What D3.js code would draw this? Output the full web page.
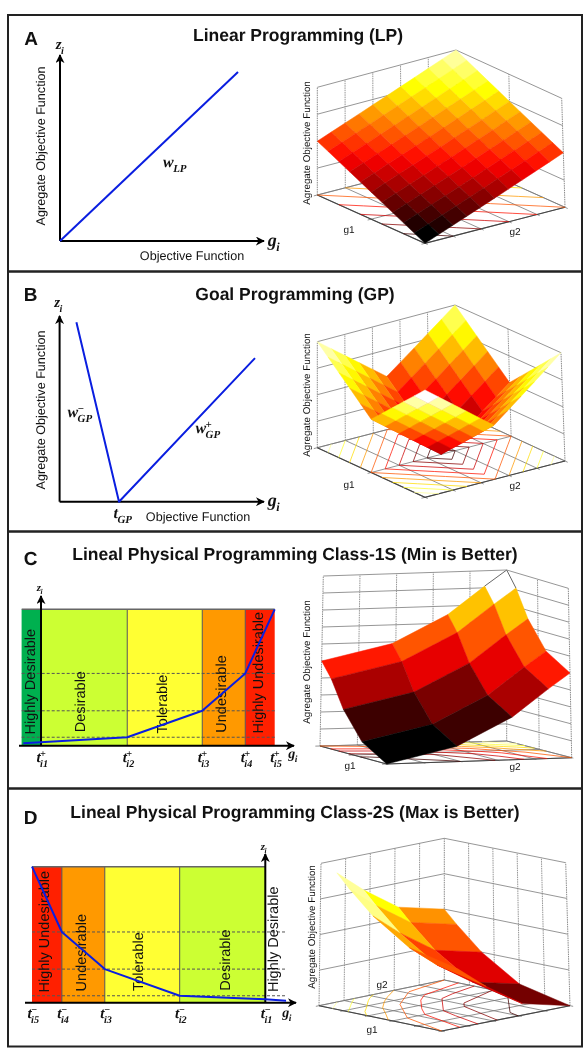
<!DOCTYPE html>
<html><head><meta charset="utf-8">
<style>html,body{margin:0;padding:0;background:#fff}svg{display:block;filter:blur(.35px)}text{fill:#111;text-rendering:geometricPrecision}</style>
<script src="https://cdn.jsdelivr.net/npm/d3@7"></script></head>
<body><svg id="c" width="583" height="1050"></svg>
<script>
// ---------- DATA ----------
const titles = ["Linear Programming (LP)","Goal Programming (GP)","Lineal Physical Programming Class-1S (Min is Better)","Lineal Physical Programming Class-2S (Max is Better)"];
const panelLetters = ["A","B","C","D"];
const lpG = [0,100], lpZ = [0,100];
const gpG = [8.6,30.4,100], gpZ = [100,0,80];
const class1Breaks = [0,36.9,69,87.4,100];
const class1Levels = [6.2,25.6,53,100];
const class1CurveG = [-7.6,36.9,69,87.4,100];
const class1CurveZ = [1.8,6.2,25.6,53,100];
const class1Bands = ["Highly Desirable","Desirable","Tolerable","Undesirable","Highly Undesirable"];
const class2Breaks = [0,36.7,68.8,87.2,100];
const class2Levels = [5.1,24.7,52,100];
const class2CurveG = [100,87.2,68.8,36.7,0,-8.9];
const class2CurveZ = [100,52,24.7,5.1,2.5,1.5];
const bandColors = ["#00b04f","#ccff33","#ffff33","#ff9900","#ff2000"];

const gridTen = [0,.1,.2,.3,.4,.5,.6,.7,.8,.9,1];
const surfaceLP = [
[0,.05,.1,.15,.2,.25,.3,.35,.4,.45,.5],
[.05,.1,.15,.2,.25,.3,.35,.4,.45,.5,.55],
[.1,.15,.2,.25,.3,.35,.4,.45,.5,.55,.6],
[.15,.2,.25,.3,.35,.4,.45,.5,.55,.6,.65],
[.2,.25,.3,.35,.4,.45,.5,.55,.6,.65,.7],
[.25,.3,.35,.4,.45,.5,.55,.6,.65,.7,.75],
[.3,.35,.4,.45,.5,.55,.6,.65,.7,.75,.8],
[.35,.4,.45,.5,.55,.6,.65,.7,.75,.8,.85],
[.4,.45,.5,.55,.6,.65,.7,.75,.8,.85,.9],
[.45,.5,.55,.6,.65,.7,.75,.8,.85,.9,.95],
[.5,.55,.6,.65,.7,.75,.8,.85,.9,.95,1]];
const surfaceGP = [
[1,.9,.8,.7,.6,.5,.6,.7,.8,.9,1],
[.9,.8,.7,.6,.5,.4,.5,.6,.7,.8,.9],
[.8,.7,.6,.5,.4,.3,.4,.5,.6,.7,.8],
[.7,.6,.5,.4,.3,.2,.3,.4,.5,.6,.7],
[.6,.5,.4,.3,.2,.1,.2,.3,.4,.5,.6],
[.5,.4,.3,.2,.1,0,.1,.2,.3,.4,.5],
[.6,.5,.4,.3,.2,.1,.2,.3,.4,.5,.6],
[.7,.6,.5,.4,.3,.2,.3,.4,.5,.6,.7],
[.8,.7,.6,.5,.4,.3,.4,.5,.6,.7,.8],
[.9,.8,.7,.6,.5,.4,.5,.6,.7,.8,.9],
[1,.9,.8,.7,.6,.5,.6,.7,.8,.9,1]];
const class1U = [0,.375,.66,.85,1], class1V = [0,.38,.68,.88,1];
const surfaceC = [
[0,.09,.25,.41,.5],
[.09,.18,.34,.5,.59],
[.25,.34,.5,.66,.75],
[.41,.5,.66,.82,.91],
[.5,.59,.75,.91,1]];
const colorC = [[0,.09,.25,.41],[.09,.18,.34,.5],[.25,.34,.5,.66],[.41,.5,.66,1]];
const class2U = [0,.4,.7,.9,1], class2V = [0,.37,.65,.87,1];
const surfaceD = [
[0,.08,.25,.41,.5],
[.08,.16,.33,.49,.58],
[.25,.33,.5,.66,.75],
[.41,.49,.66,.82,.91],
[.5,.58,.75,.91,1]];
const colorD = [[.17,.33,.5],[.33,.47,.62],[.5,.64,.88],[.59,.75,.9]];
const contourLevels = [.1,.2,.3,.4,.5,.6,.7,.8,.9];

// ---------- LAYOUT ----------
const svg = d3.select("#c");
const sans = "'Liberation Sans',Arial,sans-serif", serif = "'Liberation Serif','Times New Roman',serif";
const hot = d3.scaleLinear().domain([0,.375,.75,1]).range(["#000","#f00","#ff0","#fff"]).clamp(true);

svg.append("defs").append("marker").attr("id","arrow").attr("viewBox","0 0 10 10").attr("refX",9).attr("refY",5)
  .attr("markerWidth",9).attr("markerHeight",9).attr("markerUnits","userSpaceOnUse").attr("orient","auto")
  .append("path").attr("d","M0,0L10,5L0,10L3,5Z").attr("fill","#000");

[[8,15,574,256.5],[8,271.5,574,260],[8,531.5,574,257],[8,788.5,574,258]].forEach(r=>
  svg.append("rect").attr("x",r[0]).attr("y",r[1]).attr("width",r[2]).attr("height",r[3]).attr("fill","none").attr("stroke","#222").attr("stroke-width",2));

const titleCfg = [[298,41,17.5],[295,300,17.5],[295,560,17.5],[295,818,17.5]];
titles.forEach((t,i)=>svg.append("text").attr("x",titleCfg[i][0]).attr("y",titleCfg[i][1]).attr("text-anchor","middle")
  .attr("font-family",sans).attr("font-weight","bold").attr("font-size",titleCfg[i][2]).text(t));
[[31,45],[30.5,301],[30.5,565],[30.5,824]].forEach((p,i)=>svg.append("text").attr("x",p[0]).attr("y",p[1]).attr("text-anchor","middle")
  .attr("font-family",sans).attr("font-weight","bold").attr("font-size",19).text(panelLetters[i]));

function txt(x,y,s,size,rot){
  const t = svg.append("text").attr("font-family",sans).attr("font-size",size).attr("text-anchor","middle").attr("dy",".35em").text(s);
  t.attr("transform",`translate(${x},${y})`+(rot?` rotate(${rot})`:""));
  return t;
}
function math(cx,y,base,sub,sup,size){
  const g = svg.append("g");
  const mk=(s,fs)=>g.append("text").attr("font-family",serif).attr("font-style","italic").attr("font-weight","bold").attr("font-size",fs).text(s);
  const b = mk(base,size);
  const bw = b.node().getComputedTextLength();
  const sb = sub?mk(sub,size*.68):null, sp = sup?mk(sup,size*.68):null;
  const w = bw + Math.max(sb?sb.node().getComputedTextLength():0, sp?sp.node().getComputedTextLength():0);
  const x0 = cx-w/2;
  b.attr("x",x0).attr("y",y);
  if(sb) sb.attr("x",x0+bw-.5).attr("y",y+size*.3);
  if(sp) sp.attr("x",x0+bw-.5).attr("y",y-size*.32);
}
function axisLine(x1,y1,x2,y2,sw){
  svg.append("line").attr("x1",x1).attr("y1",y1).attr("x2",x2).attr("y2",y2).attr("stroke","#000").attr("stroke-width",sw||2).attr("marker-end","url(#arrow)");
}
function curve(xs,ys,X,Y,w){
  svg.append("path").datum(d3.zip(xs,ys)).attr("fill","none").attr("stroke","#0a1ee0").attr("stroke-width",w||2)
    .attr("stroke-linejoin","round").attr("d",d3.line().x(d=>X(d[0])).y(d=>Y(d[1])));
}

// ---- A left
{
  const X=d3.scaleLinear([0,100],[60,238]), Y=d3.scaleLinear([0,100],[241,72]);
  axisLine(60,241,264,241); axisLine(60,241,60,55);
  curve(lpG,lpZ,X,Y);
  txt(41,146,"Agregate Objective Function",12.6,-90);
  txt(192,256,"Objective Function",12.6);
  math(60,49,"z","i",null,15); math(274,246,"g","i",null,18);
  math(175,167,"w","LP",null,16);
}
// ---- B left
{
  const X=d3.scaleLinear([0,100],[59.6,255]), Y=d3.scaleLinear([0,100],[501.7,322.3]);
  axisLine(59.6,501.7,264,501.7); axisLine(59.6,501.7,59.6,316);
  curve(gpG,gpZ,X,Y);
  txt(41,410,"Agregate Objective Function",12.6,-90);
  txt(198,516.5,"Objective Function",12.6);
  math(58.5,307,"z","i",null,15); math(274,506,"g","i",null,18);
  math(123,518,"t","GP",null,16);
  math(80,417,"w","GP","\u2212",16); math(208,433,"w","GP","+",16);
}
// ---- bands
function bands(cfg){
  const X=d3.scaleLinear([0,100],cfg.xr), Y=d3.scaleLinear([0,100],cfg.yr);
  cfg.rects.forEach(r=>{
    const a=Math.min(X(r[0]),X(r[1])), b=Math.max(X(r[0]),X(r[1]));
    svg.append("rect").attr("x",a).attr("y",Y(100)).attr("width",b-a).attr("height",Y(0)-Y(100)).attr("fill",bandColors[r[2]]);
  });
  cfg.breaks.forEach(v=>svg.append("line").attr("x1",X(v)).attr("x2",X(v)).attr("y1",Y(0)).attr("y2",Y(100)).attr("stroke","#555").attr("stroke-width",1));
  svg.append("line").attr("x1",cfg.top[0]).attr("x2",cfg.top[1]).attr("y1",Y(100)).attr("y2",Y(100)).attr("stroke","#666").attr("stroke-width",1.5);
  cfg.levels.slice(0,3).forEach(v=>svg.append("line").attr("x1",cfg.dash[0]).attr("x2",cfg.dash[1]).attr("y1",Y(v)).attr("y2",Y(v)).attr("stroke","#555").attr("stroke-width",1).attr("stroke-dasharray","3 2"));
  cfg.text.forEach(t=>txt(t[0],t[1],class1Bands[t[2]],14.5,-90));
  return [X,Y];
}
{
  const [X,Y]=bands({xr:[41,274.7],yr:[745.7,609.3],top:[21.7,274.7],dash:[21.7,274.7],levels:class1Levels,breaks:class1Breaks.slice(1,4),
    rects:[[-8.3,0,0],[0,36.9,1],[36.9,69,2],[69,87.4,3],[87.4,100,4]],
    text:[[30,681.7,0],[80,701.7,1],[161.7,704,2],[220.7,694,3],[258.3,672.7,4]]});
  axisLine(19,745.7,294,745.7); axisLine(41,745.7,41,596);
  curve(class1CurveG,class1CurveZ,X,Y);
  ["i1","i2","i3","i4","i5"].forEach((s,i)=>math(X(class1Breaks[i])+1.5,762,"t",s,"+",15));
  math(293,758,"g","i",null,14); math(40,591,"z","i",null,11);
}
{
  const [X,Y]=bands({xr:[265.3,32],yr:[1002.7,866.7],top:[32,265.3],dash:[32,287],levels:class2Levels,breaks:class2Breaks.slice(1,4),
    rects:[[0,36.7,1],[36.7,68.8,2],[68.8,87.2,3],[87.2,100,4]],
    text:[[44.3,931.7,4],[81,952.7,3],[138.3,961.7,2],[225,960,1],[272.7,939.3,0]]});
  axisLine(25,1002.7,296,1002.7); axisLine(265.3,1002.7,265.3,854);
  curve(class2CurveG,class2CurveZ,X,Y);
  ["i1","i2","i3","i4","i5"].forEach((s,i)=>math(X(class2Breaks[i])+1.5,1018,"t",s,"\u2212",15));
  math(287,1017,"g","i",null,14); math(264,850,"z","i",null,11);
}

// ---------- 3D SURFACES ----------
function surface(cfg){
  const c=cfg.corners;
  const lerp=(a,b,t)=>[a[0]+(b[0]-a[0])*t,a[1]+(b[1]-a[1])*t];
  const P=(u,v,w)=>{
    const fl=lerp(lerp(c.O[0],c.V[0],v),lerp(c.U[0],c.W[0],v),u);
    const tp=lerp(lerp(c.O[1],c.V[1],v),lerp(c.U[1],c.W[1],v),u);
    return lerp(fl,tp,w);
  };
  const g=svg.append("g");
  const pathOf=d3.line();
  const L=(pts,col,sw,da,op)=>g.append("path").attr("d",pathOf(pts)).attr("fill","none").attr("stroke",col).attr("stroke-width",sw).attr("stroke-dasharray",da||null).attr("opacity",op||1);
  const grey="#8a8a8a", dark="#444";
  const zs=d3.range(cfg.zSeg+1).map(i=>i/cfg.zSeg);
  const W=cfg.walls;
  zs.forEach(w=>L([P(...W[0],w),P(...W[1],w),P(...W[2],w)],grey,.9));
  d3.range(1,cfg.seg1).forEach(i=>{const t=i/cfg.seg1;const a=[W[0][0]+(W[1][0]-W[0][0])*t,W[0][1]+(W[1][1]-W[0][1])*t];L([P(...a,0),P(...a,1)],grey,.9,"1.5 .8");});
  d3.range(1,cfg.seg2).forEach(i=>{const t=i/cfg.seg2;const a=[W[1][0]+(W[2][0]-W[1][0])*t,W[1][1]+(W[2][1]-W[1][1])*t];L([P(...a,0),P(...a,1)],grey,.9,"1.5 .8");});
  W.forEach(a=>L([P(...a,0),P(...a,1)],grey,1,"1.5 .8"));
  // floor grid, extended slightly past the front edges to form ticks
  const F=cfg.floorSeg, fe=cfg.front;
  d3.range(F[0]+1).forEach(i=>{const t=i/F[0];L(fe[1]==0?[P(t,-.025,0),P(t,1,0)]:[P(t,0,0),P(t,1.025,0)],"#777",.8);});
  d3.range(F[1]+1).forEach(i=>{const t=i/F[1];L(fe[0]==0?[P(-.025,t,0),P(1,t,0)]:[P(0,t,0),P(1.025,t,0)],"#777",.8);});
  L([P(1,fe[1],0),P(fe[0],fe[1],0),P(fe[0],1-fe[1],0)],dark,1.1);
  // contours on the floor
  const z=cfg.z,U=cfg.u,V=cfg.v;
  const hotT=d3.scaleLinear([0,1],[cfg.cLow||0,1]);
  contourLevels.forEach(lv=>{
    const col=hot(lv);
    for(let i=0;i<U.length-1;i++)for(let j=0;j<V.length-1;j++){
      const q=[[i,j],[i+1,j],[i+1,j+1],[i,j+1]], pts=[];
      for(let k=0;k<4;k++){
        const a=q[k],b=q[(k+1)%4],za=z[a[0]][a[1]],zb=z[b[0]][b[1]];
        if((za<lv&&zb>=lv)||(zb<lv&&za>=lv)){
          const t=(lv-za)/(zb-za);
          pts.push(P(U[a[0]]+(U[b[0]]-U[a[0]])*t,V[a[1]]+(V[b[1]]-V[a[1]])*t,0));
        }
      }
      if(pts.length>=2) L(pts.slice(0,2),col,1,null,.75);
      if(pts.length==4) L(pts.slice(2,4),col,1,null,.75);
    }
  });
  // cells, back to front
  const cells=[];
  const nI=cfg.nI||U.length-1,nJ=cfg.nJ||V.length-1;
  for(let i=0;i<nI;i++)for(let j=0;j<nJ;j++){
    const cen=P((U[i]+U[i+1])/2,(V[j]+V[j+1])/2,0);
    cells.push({i,j,d:cen[1]});
  }
  cells.sort((a,b)=>a.d-b.d);
  g.selectAll("path.cell").data(cells).join("path").attr("class","cell")
    .attr("d",d=>{const {i,j}=d;return pathOf([P(U[i],V[j],z[i][j]),P(U[i+1],V[j],z[i+1][j]),P(U[i+1],V[j+1],z[i+1][j+1]),P(U[i],V[j+1],z[i][j+1])])+"Z";})
    .attr("fill",d=>hot(cfg.color?cfg.color[d.i][d.j]:hotT(z[d.i][d.j])))
    .attr("stroke",d=>hot(cfg.color?cfg.color[d.i][d.j]:hotT(z[d.i][d.j]))).attr("stroke-width",.5).attr("stroke-linejoin","round");
  if(cfg.outline){ const i=nI-1,j=nJ-1;
    L([P(U[i],V[j+1],z[i][j+1]),P(U[i+1],V[j+1],z[i+1][j+1]),P(U[i+1],V[j],z[i+1][j])],"#555",.9);
  }
}
surface({corners:{O:[[425,243.3],[425,135]],U:[[317.3,195],[317.3,87.3]],V:[[565,207.3],[561.7,98.3]],W:[[457.3,159],[456,50]]},
  u:gridTen,v:gridTen,z:surfaceLP,zSeg:4,seg1:5,seg2:2,floorSeg:[2,5],walls:[[1,0],[1,1],[0,1]],front:[0,0]});
surface({corners:{O:[[425,497.3],[425,390]],U:[[317.3,447.7],[317.3,341.7]],V:[[565,461],[561,352.7]],W:[[457.3,411.4],[455,305]]},
  u:gridTen,v:gridTen,z:surfaceGP,cLow:.13,zSeg:4,seg1:5,seg2:2,floorSeg:[2,5],walls:[[1,0],[1,1],[0,1]],front:[0,0]});
surface({corners:{O:[[386.7,764],[389,592]],U:[[320,746],[323.3,576]],V:[[571.7,757.7],[568.3,588.3]],W:[[506.7,741],[506.7,570]]},
  u:class1U,v:class1V,z:surfaceC,color:colorC,outline:true,zSeg:10,seg1:5,seg2:2,floorSeg:[2,5],walls:[[1,0],[1,1],[0,1]],front:[0,0]});
surface({corners:{O:[[570,1005.7],[565.7,862.7]],U:[[444.3,980],[444.3,838.3]],V:[[441.7,1031],[441.7,888]],W:[[319,1005.7],[321,863.3]]},
  u:class2U,v:class2V,z:surfaceD,color:colorD,nI:4,nJ:3,zSeg:4,seg1:5,seg2:5,floorSeg:[5,5],walls:[[1,1],[1,0],[0,0]],front:[0,1]});

[[307,143],[307,395],[307,662],[312,927]].forEach(p=>txt(p[0],p[1],"Agregate Objective Function",9.8,-90));
[[349,229,"g1"],[515,231,"g2"],[349,484,"g1"],[515,485,"g2"],[350,765,"g1"],[515,766,"g2"],[372,1029,"g1"],[382,984,"g2"]]
  .forEach(p=>txt(p[0],p[1],p[2],10));
</script></body></html>
